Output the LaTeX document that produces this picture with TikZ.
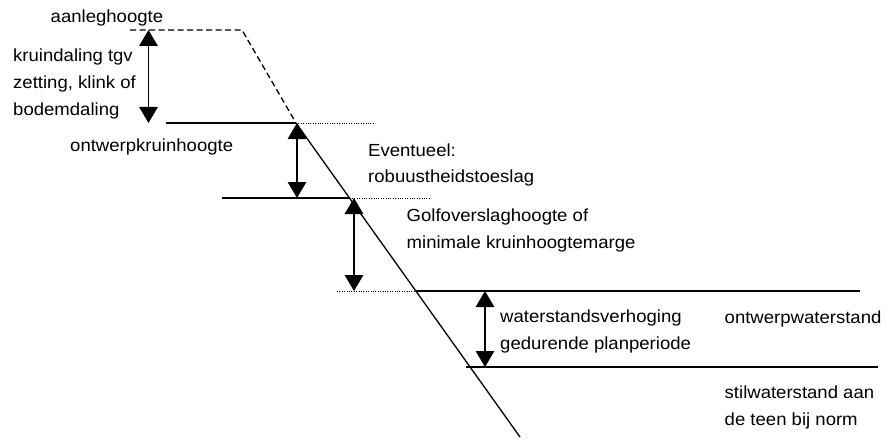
\documentclass[tikz,border=0pt]{standalone}
\usepackage{fontspec}
\setmainfont[FakeStretch=1.06]{Liberation Sans}
\usetikzlibrary{arrows.meta}
\begin{document}
\begin{tikzpicture}[x=1pt,y=-1pt,
  lbl/.style={anchor=base west, inner sep=0pt, font=\fontsize{17.5}{26.7}\selectfont},
  solidline/.style={line width=1.3pt},
  dashline/.style={line width=1.3pt, dash pattern=on 6pt off 3.5pt},
  dotline/.style={line width=0.8pt, dash pattern=on 1pt off 1.4pt},
  dimarrow/.style={line width=1.3pt, {Triangle[length=16pt,width=18.5pt]}-{Triangle[length=16pt,width=18.5pt]}}]
\useasboundingbox (0,0) rectangle (885,441);
% slope and crest
\coordinate (A) at (130,30);
\coordinate (B) at (242,30);
\coordinate (C) at (296,123);
\coordinate (D) at (520,437);
\coordinate (S2) at (349.5,198);
\coordinate (S3) at (416,291);
\coordinate (S4) at (466,367);
\draw[dashline] (A) -- (B) -- (C);
\draw[solidline] (C) -- (D);
% levels
\coordinate (L1a) at (166,123);
\coordinate (L1b) at (373,123);
\draw[solidline] (L1a) -- (C);
\draw[dotline] (C) -- (L1b);
\coordinate (L2a) at (222,198);
\coordinate (L2b) at (430,198);
\draw[solidline] (L2a) -- (S2);
\draw[dotline] (S2) -- (L2b);
\coordinate (L3a) at (337,291);
\coordinate (L3b) at (860,291);
\draw[dotline] (L3a) -- (S3);
\draw[solidline] (S3) -- (L3b);
\coordinate (L4b) at (878,367);
\draw[solidline] (S4) -- (L4b);
% dimension arrows
\coordinate (a1t) at (148.5,30); \coordinate (a1b) at (148.5,123);
\coordinate (a2t) at (297,123);  \coordinate (a2b) at (297,198);
\coordinate (a3t) at (354,198);  \coordinate (a3b) at (354,291);
\coordinate (a4t) at (485,291);  \coordinate (a4b) at (485,367);
\draw[dimarrow] (a1t) -- (a1b);
\draw[dimarrow] (a2t) -- (a2b);
\draw[dimarrow] (a3t) -- (a3b);
\draw[dimarrow] (a4t) -- (a4b);
% labels
\node[lbl] (t1) at (50.5,23) {aanleghoogte};
\node[lbl] (t2) at (13,61.7) {\vtop{\hbox{kruindaling tgv}\hbox{zetting, klink of}\hbox{bodemdaling}}};
\node[lbl] (t3) at (70,151.7) {ontwerpkruinhoogte};
\node[lbl] (t4) at (368,156) {\vtop{\hbox{Eventueel:}\hbox{robuustheidstoeslag}}};
\node[lbl] (t5) at (406.5,221.7) {\vtop{\hbox{Golfoverslaghoogte of}\hbox{minimale kruinhoogtemarge}}};
\node[lbl] (t6) at (500,322.5) {\vtop{\hbox{waterstandsverhoging}\hbox{gedurende planperiode}}};
\node[lbl] (t7) at (724.5,323.5) {ontwerpwaterstand};
\node[lbl] (t8) at (724.5,398.3) {\vtop{\hbox{stilwaterstand aan}\hbox{de teen bij norm}}};
\end{tikzpicture}
\end{document}
